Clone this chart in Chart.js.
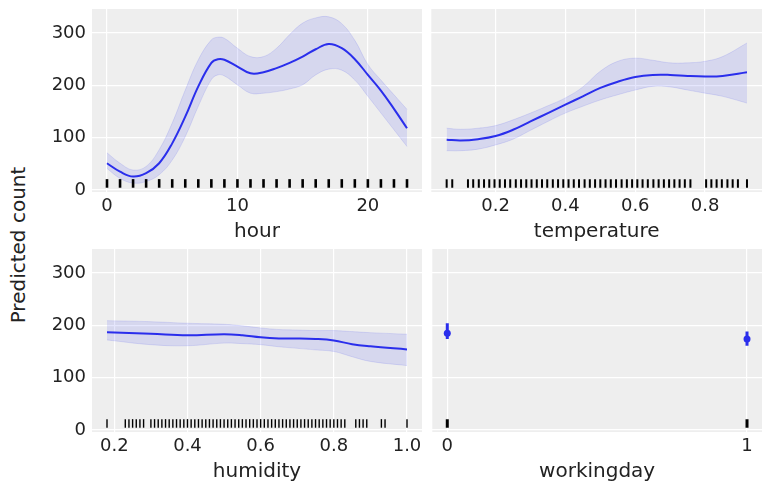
<!DOCTYPE html>
<html>
<head>
<meta charset="utf-8">
<script src="https://cdn.jsdelivr.net/npm/chart.js@4.4.1/dist/chart.umd.min.js"></script>
<style>
  body { margin: 0; background: #fff; width: 771px; height: 491px; overflow: hidden; position: relative; }
  canvas { position: absolute; }
  #ylab {
    position: absolute; left: 18px; top: 245px;
    transform: translate(-50%, -50%) rotate(-90deg);
    font: 20px "DejaVu Sans"; color: #222; white-space: nowrap;
  }
</style>
</head>
<body>
<div id="ylab">Predicted count</div>
<canvas id="cHour" width="400" height="245" style="left:30px;top:0px"></canvas>
<canvas id="cTemp" width="346" height="245" style="left:425px;top:0px"></canvas>
<canvas id="cHum" width="400" height="245" style="left:30px;top:240px"></canvas>
<canvas id="cWork" width="346" height="245" style="left:425px;top:240px"></canvas>
<script>
// hour
const hourX = [0, 1, 2, 3, 4, 5, 6, 7, 8, 8.5, 9, 10, 11, 12, 13, 14, 15, 16, 17, 18, 19, 20, 21, 22, 23];
const hourMean = [51, 35, 25.5, 32, 51, 89, 140, 198, 243, 250, 249, 236, 223, 225, 233, 243, 255, 269, 279, 271, 250, 220, 190, 155, 118];
const hourUpper = [71, 51, 38, 45, 77, 128, 191, 249, 287, 292, 290, 271, 255, 255, 271, 297, 319, 329, 331, 318, 286, 240, 210, 182, 154];
const hourLower = [41, 22, 13, 16, 29, 57, 102, 160, 211, 220, 218, 201, 185, 185, 188, 193, 201, 220, 231, 229, 210, 179, 147, 115, 83];
const hourRug = [0, 1, 2, 3, 4, 5, 6, 7, 8, 9, 10, 11, 12, 13, 14, 15, 16, 17, 18, 19, 20, 21, 22, 23];
const hourTicks = [0, 10, 20];

// temperature
const tempX = [0.06, 0.1, 0.15, 0.2, 0.25, 0.3, 0.35, 0.4, 0.45, 0.5, 0.55, 0.6, 0.65, 0.7, 0.75, 0.8, 0.85, 0.92];
const tempMean = [96, 94.5, 97, 103, 115, 131, 147, 163, 179, 195, 207, 216, 220, 220, 218, 217, 218, 225];
const tempUpper = [118, 116, 118, 123, 134, 147, 161, 176, 197, 227, 246, 252, 248, 243, 243, 246, 255, 281];
const tempLower = [75, 75, 78, 86, 97, 114, 131, 147, 160, 172, 182, 191, 198, 197, 191, 185, 179, 166];
const tempRug = [0.06, 0.076, 0.121, 0.136, 0.152, 0.167, 0.182, 0.197, 0.212, 0.227, 0.242, 0.258, 0.273,
  0.288, 0.303, 0.318, 0.333, 0.348, 0.364, 0.379, 0.394, 0.409, 0.424, 0.439, 0.455, 0.47, 0.485, 0.5,
  0.515, 0.53, 0.545, 0.561, 0.576, 0.591, 0.606, 0.621, 0.636, 0.652, 0.667, 0.682, 0.697, 0.712, 0.727,
  0.742, 0.758, 0.803, 0.818, 0.833, 0.848, 0.864, 0.879, 0.894, 0.92];
const tempTicks = [0.2, 0.4, 0.6, 0.8];

// humidity
const humX = [0.18, 0.3, 0.4, 0.5, 0.55, 0.6, 0.65, 0.7, 0.75, 0.8, 0.85, 0.9, 1.0];
const humMean = [187, 184, 181, 183, 181, 177, 175, 175, 174, 171, 164, 160, 154];
const humUpper = [209, 207, 204, 202, 199, 195, 192, 191, 190, 190, 188, 186, 183];
const humLower = [172, 163, 161, 166, 165, 163, 159, 156, 153, 150, 140, 131, 123];
const humRug = [0.18, 0.23, 0.24, 0.25, 0.26, 0.27, 0.28, 0.3, 0.31, 0.32, 0.33, 0.34, 0.35, 0.36, 0.37,
  0.38, 0.39, 0.4, 0.41, 0.42, 0.43, 0.44, 0.45, 0.46, 0.47, 0.48, 0.49, 0.5, 0.51, 0.52, 0.53, 0.54,
  0.55, 0.56, 0.57, 0.58, 0.59, 0.6, 0.61, 0.62, 0.63, 0.64, 0.65, 0.66, 0.67, 0.68, 0.69, 0.7, 0.71,
  0.72, 0.73, 0.74, 0.75, 0.76, 0.77, 0.78, 0.79, 0.8, 0.81, 0.82, 0.83, 0.86, 0.87, 0.88, 0.89,
  0.93, 0.94, 1.0];
const humTicks = [0.2, 0.4, 0.6, 0.8, 1.0];

// workingday
const workX = [0, 1];
const workMean = [185, 174];
const workUpper = [204, 188];
const workLower = [174, 161];
const workTicks = [0, 1];

const yTicks = [0, 100, 200, 300];
const RUG_Y = 12.4;

const BLUE = "#2a2eec";
const BAND = "rgba(42,46,236,0.12)";
const FONT = "DejaVu Sans";
const TXT = "#222";

Chart.defaults.font.family = FONT;
Chart.defaults.color = TXT;

const pts = (xs, ys) => xs.map((x, i) => ({ x: x, y: ys[i] }));

const panelBg = {
    id: "panelBg",
    beforeDraw(chart) {
        const a = chart.chartArea;
        chart.ctx.save();
        chart.ctx.fillStyle = "#eeeeee";
        chart.ctx.fillRect(a.left, a.top, a.right - a.left, a.bottom - a.top);
        chart.ctx.restore();
    }
};

function makePanel(id, p) {
    return new Chart(document.getElementById(id), {
        type: "line",
        data: { datasets: p.datasets },
        options: {
            responsive: false,
            animation: false,
            events: [],
            layout: { padding: { top: 9, right: p.right, left: 0, bottom: 0 } },
            plugins: { legend: { display: false }, tooltip: { enabled: false } },
            scales: {
                x: {
                    type: "linear",
                    min: p.xmin, max: p.xmax,
                    afterBuildTicks: s => { s.ticks = p.xticks.map(v => ({ value: v })); },
                    afterFit: s => { s.height = 53; s.paddingLeft = 0; s.paddingRight = 0; },
                    ticks: {
                        padding: 4, maxRotation: 0, autoSkip: false,
                        font: { size: 18 }, color: TXT,
                        callback: v => v.toFixed(p.dec)
                    },
                    grid: { color: "#ffffff", lineWidth: 1.2, drawTicks: false },
                    border: { display: false },
                    title: { display: true, text: p.title, font: { size: 20 }, color: TXT, padding: { top: 0, bottom: 1 } }
                },
                y: {
                    min: -4, max: 346,
                    afterBuildTicks: s => { s.ticks = yTicks.map(v => ({ value: v })); },
                    afterFit: s => { s.width = p.yw; s.paddingTop = 0; s.paddingBottom = 0; },
                    ticks: { display: p.ylabels, padding: 6, font: { size: 18 }, color: TXT },
                    grid: { color: "#ffffff", lineWidth: 1.2, drawTicks: false },
                    border: { display: false }
                }
            }
        },
        plugins: [panelBg]
    });
}

function curveSets(xs, mean, upper, lower, rug, rugW) {
    return [
        { data: pts(xs, mean), borderColor: BLUE, borderWidth: 2, pointRadius: 0, tension: 0.4, fill: false },
        { data: rug.map(x => ({ x: x, y: RUG_Y })), showLine: false, pointStyle: "line", rotation: 90,
          pointRadius: 4.3, pointBorderWidth: rugW, pointBorderColor: "#000", pointBackgroundColor: "#000" },
        { data: pts(xs, upper), borderColor: BAND, borderWidth: 1, pointRadius: 0, tension: 0.4,
          fill: { target: "+1" }, backgroundColor: BAND },
        { data: pts(xs, lower), borderColor: BAND, borderWidth: 1, pointRadius: 0, tension: 0.4, fill: false }
    ];
}

makePanel("cHour", {
    title: "hour", xmin: -1.15, xmax: 24.15, xticks: hourTicks, dec: 0,
    yw: 62, right: 8, ylabels: true,
    datasets: curveSets(hourX, hourMean, hourUpper, hourLower, hourRug, 2.6)
});

makePanel("cTemp", {
    title: "temperature", xmin: 0.016, xmax: 0.963, xticks: tempTicks, dec: 1,
    yw: 6, right: 9, ylabels: false,
    datasets: curveSets(tempX, tempMean, tempUpper, tempLower, tempRug, 2)
});

makePanel("cHum", {
    title: "humidity", xmin: 0.139, xmax: 1.041, xticks: humTicks, dec: 1,
    yw: 62, right: 8, ylabels: true,
    datasets: curveSets(humX, humMean, humUpper, humLower, humRug, 1.4)
});

// workingday: points with error bars
const workSets = [
    { data: pts(workX, workMean), showLine: false, pointRadius: 3.5, pointBackgroundColor: BLUE, pointBorderColor: BLUE, pointBorderWidth: 0 }
];
workX.forEach((x, i) => {
    workSets.push({ data: [{ x: x, y: workLower[i] }, { x: x, y: workUpper[i] }], borderColor: BLUE, borderWidth: 3, pointRadius: 0 });
});
workSets.push({ data: workX.map(x => ({ x: x, y: RUG_Y })), showLine: false, pointStyle: "line", rotation: 90,
    pointRadius: 4.3, pointBorderWidth: 3, pointBorderColor: "#000", pointBackgroundColor: "#000" });

makePanel("cWork", {
    title: "workingday", xmin: -0.05, xmax: 1.05, xticks: workTicks, dec: 0,
    yw: 6, right: 9, ylabels: false,
    datasets: workSets
});
</script>
</body>
</html>
